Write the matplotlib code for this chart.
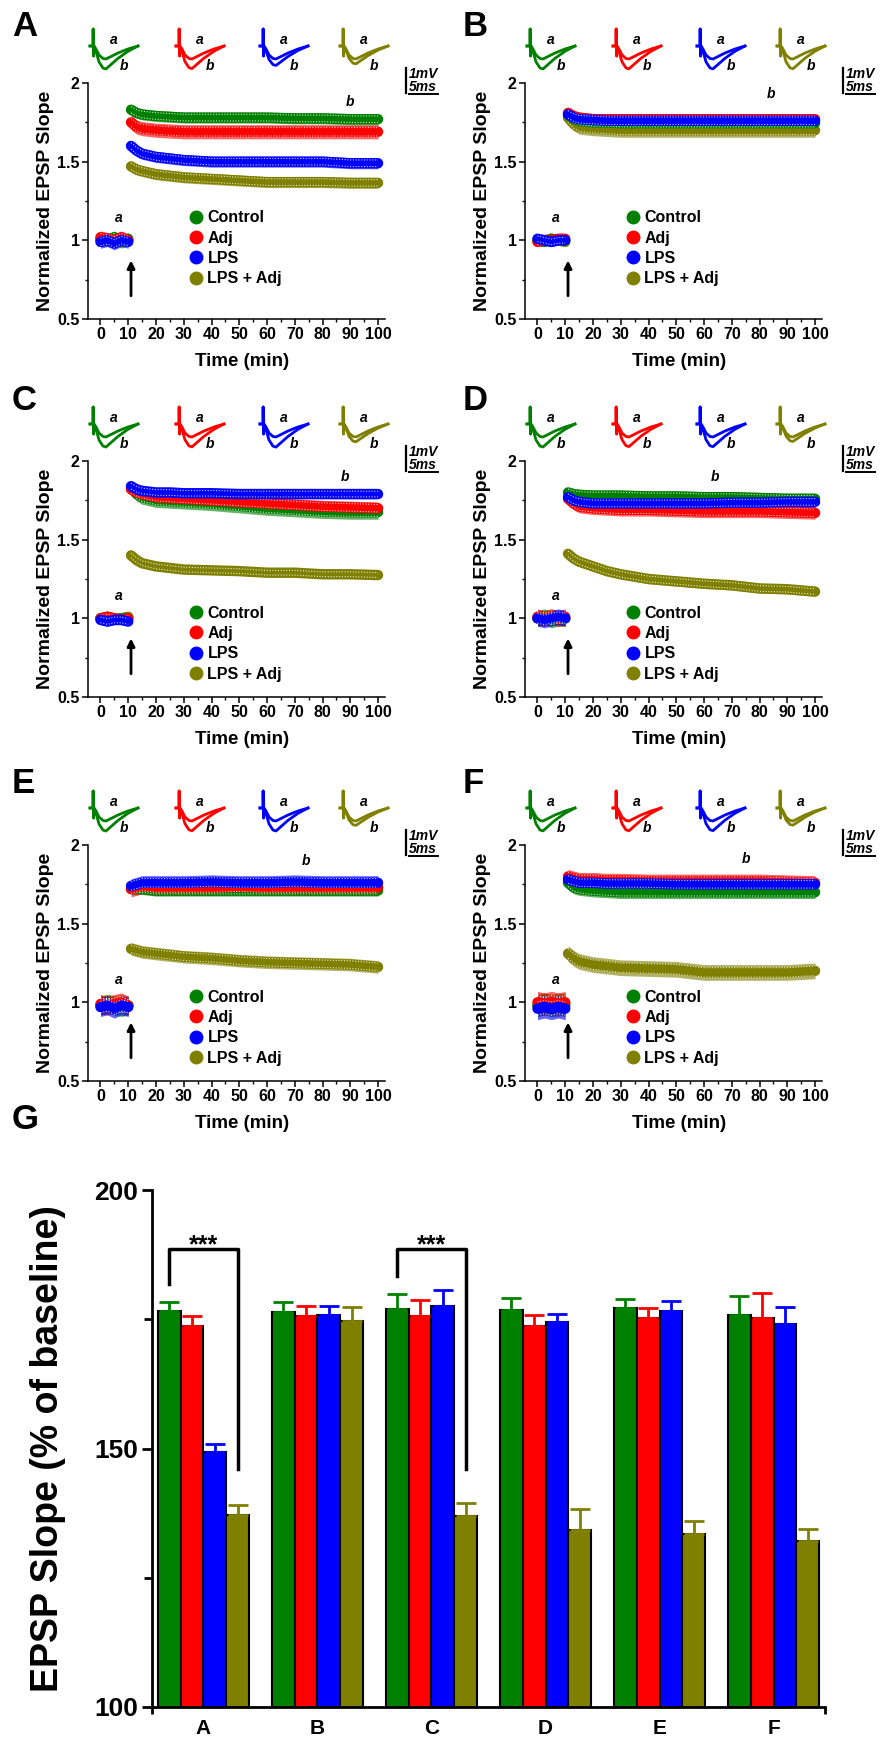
import numpy as np
import matplotlib
matplotlib.use('Agg')
import matplotlib.pyplot as plt
from matplotlib.lines import Line2D
from matplotlib.ticker import MultipleLocator, FormatStrFormatter

plt.rcParams['font.family'] = ['Liberation Sans', 'DejaVu Sans']
plt.rcParams['font.weight'] = 'bold'
plt.rcParams['axes.labelweight'] = 'bold'

groups = ['Control', 'Adj', 'LPS', 'LPS + Adj']
colors = ['#008000', '#ff0000', '#0000ff', '#808000']
panels = ['A', 'B', 'C', 'D', 'E', 'F']

# time axis (min)
t_base = [0, 2.5, 5, 7.5, 10]
t_post = [11, 13, 15, 20, 25, 30, 40, 50, 60, 70, 80, 90, 100]

# baseline before HFS, rows: Control, Adj, LPS, LPS + Adj
base_A = [[1.01, 1.00, 1.02, 0.99, 1.01], [1.02, 1.01, 1.00, 1.02, 1.00],
          [0.99, 1.00, 0.98, 1.00, 0.99], [1.00, 1.01, 1.00, 1.01, 1.00]]
base_B = [[1.00, 0.99, 1.01, 1.00, 1.00], [0.99, 1.00, 1.00, 1.01, 1.01],
          [1.01, 1.00, 0.99, 1.00, 1.00], [1.00, 1.00, 1.01, 1.00, 0.99]]
base_C = [[1.00, 1.00, 0.99, 1.00, 1.00], [1.00, 1.01, 1.00, 0.99, 1.00],
          [0.99, 0.98, 0.99, 0.99, 0.98], [1.00, 1.01, 1.00, 1.00, 1.01]]
base_D = [[1.00, 1.01, 0.99, 1.00, 1.00], [1.01, 1.00, 1.01, 1.00, 1.01],
          [1.00, 0.99, 1.00, 1.01, 1.00], [1.00, 1.00, 1.01, 1.00, 1.00]]
base_E = [[0.98, 0.99, 0.98, 0.97, 0.98], [0.99, 0.98, 0.99, 1.00, 0.98],
          [0.97, 0.98, 0.96, 0.98, 0.97], [0.98, 0.99, 0.98, 0.99, 0.98]]
base_F = [[0.98, 0.99, 0.98, 0.99, 0.98], [1.00, 0.99, 1.00, 0.99, 1.00],
          [0.96, 0.97, 0.96, 0.97, 0.96], [0.98, 0.99, 0.98, 0.98, 0.99]]
base_sem = [0.04, 0.03, 0.03, 0.05, 0.06, 0.07]

# after HFS
post_A = [[1.83, 1.81, 1.80, 1.79, 1.785, 1.78, 1.78, 1.78, 1.78, 1.775, 1.775, 1.77, 1.77],
          [1.75, 1.72, 1.71, 1.70, 1.695, 1.69, 1.69, 1.69, 1.69, 1.69, 1.69, 1.69, 1.69],
          [1.60, 1.57, 1.55, 1.53, 1.52, 1.51, 1.50, 1.50, 1.50, 1.50, 1.50, 1.49, 1.49],
          [1.47, 1.45, 1.44, 1.42, 1.41, 1.40, 1.39, 1.38, 1.37, 1.37, 1.37, 1.365, 1.365]]
post_B = [[1.80, 1.77, 1.76, 1.75, 1.75, 1.745, 1.745, 1.745, 1.745, 1.745, 1.745, 1.745, 1.745],
          [1.81, 1.79, 1.78, 1.77, 1.77, 1.77, 1.77, 1.77, 1.77, 1.77, 1.77, 1.77, 1.77],
          [1.80, 1.78, 1.77, 1.765, 1.76, 1.76, 1.76, 1.76, 1.76, 1.76, 1.76, 1.76, 1.76],
          [1.78, 1.74, 1.72, 1.71, 1.705, 1.70, 1.70, 1.70, 1.70, 1.70, 1.70, 1.70, 1.70]]
post_C = [[1.83, 1.79, 1.77, 1.75, 1.745, 1.74, 1.73, 1.715, 1.70, 1.69, 1.68, 1.675, 1.675],
          [1.82, 1.80, 1.79, 1.77, 1.765, 1.76, 1.75, 1.74, 1.73, 1.72, 1.71, 1.705, 1.70],
          [1.84, 1.82, 1.81, 1.80, 1.80, 1.795, 1.795, 1.79, 1.79, 1.79, 1.79, 1.79, 1.79],
          [1.40, 1.37, 1.35, 1.33, 1.32, 1.31, 1.305, 1.30, 1.29, 1.29, 1.28, 1.28, 1.275]]
post_D = [[1.80, 1.79, 1.785, 1.78, 1.78, 1.78, 1.775, 1.775, 1.77, 1.77, 1.765, 1.76, 1.76],
          [1.76, 1.73, 1.71, 1.70, 1.695, 1.69, 1.69, 1.685, 1.68, 1.68, 1.68, 1.675, 1.67],
          [1.77, 1.75, 1.74, 1.73, 1.73, 1.73, 1.73, 1.73, 1.73, 1.735, 1.735, 1.74, 1.74],
          [1.41, 1.38, 1.36, 1.33, 1.30, 1.28, 1.25, 1.235, 1.22, 1.21, 1.19, 1.185, 1.17]]
post_E = [[1.72, 1.72, 1.72, 1.71, 1.71, 1.71, 1.71, 1.71, 1.71, 1.71, 1.71, 1.71, 1.71],
          [1.72, 1.73, 1.74, 1.73, 1.73, 1.73, 1.73, 1.735, 1.73, 1.73, 1.73, 1.73, 1.73],
          [1.74, 1.75, 1.76, 1.76, 1.76, 1.76, 1.765, 1.76, 1.76, 1.765, 1.76, 1.76, 1.76],
          [1.34, 1.33, 1.32, 1.31, 1.30, 1.29, 1.28, 1.265, 1.255, 1.25, 1.245, 1.24, 1.225]]
post_F = [[1.76, 1.73, 1.72, 1.71, 1.705, 1.70, 1.70, 1.70, 1.70, 1.70, 1.70, 1.70, 1.70],
          [1.80, 1.79, 1.78, 1.78, 1.775, 1.775, 1.77, 1.77, 1.77, 1.77, 1.77, 1.765, 1.76],
          [1.78, 1.77, 1.76, 1.76, 1.755, 1.755, 1.755, 1.75, 1.75, 1.75, 1.75, 1.75, 1.75],
          [1.31, 1.28, 1.26, 1.24, 1.23, 1.22, 1.215, 1.21, 1.19, 1.19, 1.19, 1.19, 1.20]]
sem_A = [0.035, 0.045, 0.035, 0.035]
sem_B = [0.04, 0.035, 0.04, 0.045]
sem_C = [0.045, 0.04, 0.03, 0.025]
sem_D = [0.035, 0.04, 0.035, 0.03]
sem_E = [0.035, 0.05, 0.045, 0.04]
sem_F = [0.04, 0.045, 0.04, 0.05]

# G: EPSP slope (% of baseline), mean and SEM per experiment A-F
bar_ctrl = [176.6, 176.4, 177.0, 176.8, 177.1, 175.9]
bar_adj = [173.7, 175.6, 175.6, 173.7, 175.2, 175.3]
bar_lps = [149.3, 175.8, 177.6, 174.4, 176.5, 174.1]
bar_lpsadj = [137.1, 174.7, 136.9, 134.2, 133.5, 132.1]
err_ctrl = [1.7, 1.9, 2.9, 2.3, 1.9, 3.6]
err_adj = [1.9, 2.0, 3.1, 2.2, 2.0, 4.8]
err_lps = [1.6, 1.8, 3.1, 1.7, 2.0, 3.3]
err_lpsadj = [2.0, 2.7, 2.6, 4.1, 2.5, 2.3]
sig_groups = [0, 2]

# example fEPSP traces (pixel units): stimulus artefact + EPSP
wave_x = [0, 3, 3.2, 3.6, 4.0, 6, 9, 13, 16, 20, 28, 38, 48]
wave_art = [0, 0, 17, -10, 0, 0, 0, 0, 0, 0, 0, 0, 0]
wave_dip = [0, 0, 0, 0, 0, -3, -9, -12.5, -13, -11, -7, -3, 0]

b_label = [(90, 1.88), (84, 1.93), (88, 1.90), (64, 1.90), (74, 1.90), (75, 1.91)]
legend_top = [1.19, 1.19, 1.08, 1.08, 1.08, 1.08]

base_all = [base_A, base_B, base_C, base_D, base_E, base_F]
post_all = [post_A, post_B, post_C, post_D, post_E, post_F]
sem_all = [sem_A, sem_B, sem_C, sem_D, sem_E, sem_F]
bar_all = [bar_ctrl, bar_adj, bar_lps, bar_lpsadj]
err_all = [err_ctrl, err_adj, err_lps, err_lpsadj]

W, H = 892, 1755
fig = plt.figure(figsize=(W / 100, H / 100), dpi=100)


def add_px_axes(left, top, width, height):
    return fig.add_axes([left / W, 1 - (top + height) / H, width / W, height / H])


lefts = [88, 525]
tops = [83, 461, 845]
letter_x = [12, 463]
letter_y = [36, 410, 793]

for p, name in enumerate(panels):
    left = lefts[p % 2]
    top = tops[p // 2]
    ax = add_px_axes(left, top, 297, 236)

    for k in [3, 0, 1, 2]:
        c = colors[k]
        series = [(t_base, np.array(base_all[p][k]), base_sem[p]),
                  (t_post, np.array(post_all[p][k]), sem_all[p][k])]
        for tt, m, s in series:
            ax.fill_between(tt, m - s, m + s, color=c, alpha=0.6, lw=0)
            ax.plot(tt, m, color=c, lw=7.5, solid_capstyle='round')
            ax.plot(tt, m + 0.6 * s, color='white', lw=0.8, ls=(0, (1, 1.5)), alpha=0.8)
            ax.plot(tt, m - 0.6 * s, color='white', lw=0.8, ls=(0, (1, 1.5)), alpha=0.8)

    ax.set_xlim(-4.5, 102.5)
    ax.set_ylim(0.5, 2)
    ax.xaxis.set_major_locator(MultipleLocator(10))
    ax.xaxis.set_minor_locator(MultipleLocator(5))
    ax.yaxis.set_major_locator(MultipleLocator(0.5))
    ax.yaxis.set_minor_locator(MultipleLocator(0.25))
    ax.yaxis.set_major_formatter(FormatStrFormatter('%g'))
    ax.spines['top'].set_visible(False)
    ax.spines['right'].set_visible(False)
    for sp in ['left', 'bottom']:
        ax.spines[sp].set_linewidth(1.1)
    ax.tick_params(which='major', length=4, width=1.1, labelsize=11.5, pad=2)
    ax.tick_params(which='minor', length=2.5, width=1)
    ax.set_xlabel('Time (min)', fontsize=13.5)
    ax.set_ylabel('Normalized EPSP Slope', fontsize=14)
    ax.xaxis.set_label_coords(0.52, -0.145)
    ax.yaxis.set_label_coords(-0.115, 0.5)

    # stimulation arrow and a/b marks
    ax.annotate('', xy=(11, 0.89), xytext=(11, 0.63),
                arrowprops=dict(arrowstyle='-|>', lw=2, color='black', mutation_scale=11))
    ax.text(6.5, 1.1, 'a', style='italic', fontsize=10, ha='center', va='bottom')
    ax.text(b_label[p][0], b_label[p][1], 'b', style='italic', fontsize=10, ha='center', va='center')

    handles = [Line2D([], [], marker='o', ls='', color=c, markersize=9) for c in colors]
    ax.legend(handles, groups, loc='upper left', bbox_to_anchor=(32.5, legend_top[p]),
              bbox_transform=ax.transData, frameon=False, fontsize=11.5,
              handlelength=0.7, handletextpad=0.35, borderpad=0, borderaxespad=0,
              labelspacing=0.33)

    # example traces above each panel
    baseline = top - 37
    tax = add_px_axes(left + 2, baseline - 23, 300, 53)
    tax.set_xlim(0, 300)
    tax.set_ylim(-30, 23)
    tax.axis('off')
    offsets = [0, 86, 170, 250]
    for k in range(4):
        ratio = bar_all[k][p] / 100
        xs = np.array(wave_x) + offsets[k]
        ya = np.array(wave_art) + np.array(wave_dip)
        yb = np.array(wave_art) + np.array(wave_dip) * ratio
        tax.plot(xs, ya, color=colors[k], lw=2, clip_on=False)
        tax.plot(xs, yb, color=colors[k], lw=2, clip_on=False)
        tax.text(offsets[k] + 24, 6, 'a', style='italic', fontsize=10, ha='center', va='center')
        tax.text(offsets[k] + 34, -20, 'b', style='italic', fontsize=10, ha='center', va='center')
    # scale bar 1 mV / 5 ms
    tax.plot([316, 316], [-22, -47], color='black', lw=1.6, clip_on=False)
    tax.plot([319, 348], [-48, -48], color='black', lw=1.4, clip_on=False)
    tax.text(319, -28, '1mV', style='italic', fontsize=10, ha='left', va='center')
    tax.text(319, -41, '5ms', style='italic', fontsize=10, ha='left', va='center')

    fig.text(letter_x[p % 2] / W, 1 - letter_y[p // 2] / H, name, fontsize=25, va='baseline')

# G: summary bar chart
axg = add_px_axes(152, 1190, 673, 517)
x = np.arange(len(panels))
for k in range(4):
    axg.bar(x + (k - 1.5) * 0.2, bar_all[k], 0.2, color=colors[k], edgecolor='black', linewidth=1.5,
            yerr=[np.zeros(len(panels)), err_all[k]],
            error_kw=dict(ecolor=colors[k], elinewidth=2, capsize=7, capthick=2))

sig_top = 188.6
for g in sig_groups:
    xl, xr = g - 0.3, g + 0.3
    yl = bar_ctrl[g] + err_ctrl[g] + 3.5
    axg.plot([xl, xl, xr, xr], [yl, sig_top, sig_top, 146], color='black', lw=2.5, clip_on=False)
    axg.text(g, sig_top - 0.6, '***', ha='center', va='baseline', fontsize=18)

axg.set_xlim(-0.45, 5.45)
axg.set_ylim(100, 200)
axg.set_yticks([100, 150, 200])
axg.set_yticks([125, 175], minor=True)
axg.set_xticks(x)
axg.set_xticklabels(panels)
axg.set_xticks([-0.45, 5.45], minor=True)
axg.spines['top'].set_visible(False)
axg.spines['right'].set_visible(False)
for sp in ['left', 'bottom']:
    axg.spines[sp].set_linewidth(2)
axg.tick_params(axis='y', which='major', length=7, width=2, labelsize=19, pad=3)
axg.tick_params(axis='y', which='minor', length=6, width=2)
axg.tick_params(axis='x', which='major', length=0, labelsize=15, pad=9)
axg.tick_params(axis='x', which='minor', length=5, width=2)
axg.set_ylabel('EPSP Slope (% of baseline)', fontsize=27)
axg.yaxis.set_label_coords(-0.128, 0.5)
fig.text(12 / W, 1 - 1129 / H, 'G', fontsize=25, va='baseline')

fig.savefig('out.png', dpi=100)
